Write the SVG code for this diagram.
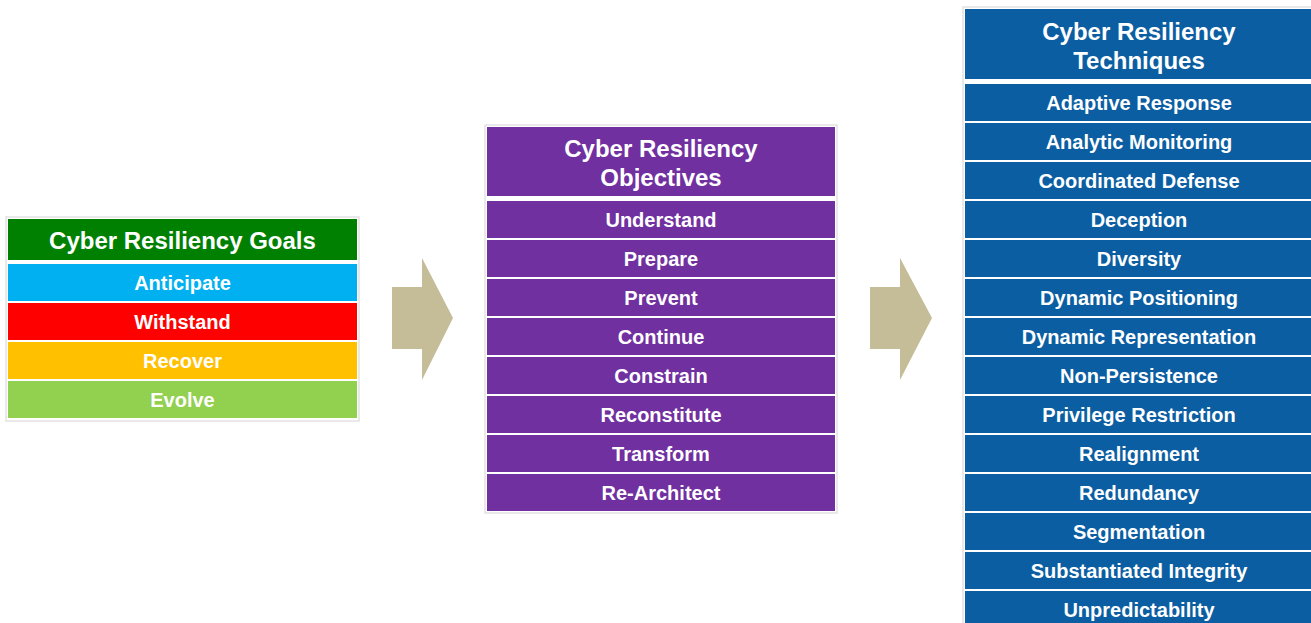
<svg xmlns="http://www.w3.org/2000/svg" width="1311" height="623" viewBox="0 0 1311 623">
<style>
text{font-family:"Liberation Sans",Arial,sans-serif;font-weight:bold;fill:#fff;text-anchor:middle}
.h{font-size:24px}
.r{font-size:20px}
.frame{fill:#fff;stroke:#e2e2e2;stroke-width:1.5}
.arrow{fill:#c4bd97}
.g0{fill:#008000}.g1{fill:#00b0f0}.g2{fill:#ff0000}.g3{fill:#ffc000}.g4{fill:#92d050}
.p{fill:#7030a0}
.b{fill:#0b5ea1}
</style>
<rect width="1311" height="623" fill="#fff"/>

<g id="goals">
<rect class="frame" x="6" y="217" width="353" height="204"/>
<rect class="g0" x="8" y="219" width="349" height="41"/>
<text class="h" x="182.5" y="249">Cyber Resiliency Goals</text>
<rect class="g1" x="8" y="264" width="349" height="37"/>
<text class="r" x="182.5" y="289.5">Anticipate</text>
<rect class="g2" x="8" y="303" width="349" height="37"/>
<text class="r" x="182.5" y="328.5">Withstand</text>
<rect class="g3" x="8" y="342" width="349" height="37"/>
<text class="r" x="182.5" y="367.5">Recover</text>
<rect class="g4" x="8" y="381" width="349" height="37"/>
<text class="r" x="182.5" y="406.5">Evolve</text>
</g>

<g id="objectives">
<rect class="frame" x="485" y="125" width="352" height="388"/>
<rect class="p" x="487" y="127" width="348" height="69"/>
<text class="h" x="661" y="157">Cyber Resiliency</text>
<text class="h" x="661" y="186">Objectives</text>
<rect class="p" x="487" y="201" width="348" height="37"/>
<text class="r" x="661" y="226.5">Understand</text>
<rect class="p" x="487" y="240" width="348" height="37"/>
<text class="r" x="661" y="265.5">Prepare</text>
<rect class="p" x="487" y="279" width="348" height="37"/>
<text class="r" x="661" y="304.5">Prevent</text>
<rect class="p" x="487" y="318" width="348" height="37"/>
<text class="r" x="661" y="343.5">Continue</text>
<rect class="p" x="487" y="357" width="348" height="37"/>
<text class="r" x="661" y="382.5">Constrain</text>
<rect class="p" x="487" y="396" width="348" height="37"/>
<text class="r" x="661" y="421.5">Reconstitute</text>
<rect class="p" x="487" y="435" width="348" height="37"/>
<text class="r" x="661" y="460.5">Transform</text>
<rect class="p" x="487" y="474" width="348" height="37"/>
<text class="r" x="661" y="499.5">Re-Architect</text>
</g>

<g id="techniques">
<rect class="frame" x="963" y="7" width="360" height="630"/>
<rect class="b" x="965" y="9" width="350" height="70"/>
<text class="h" x="1139" y="40">Cyber Resiliency</text>
<text class="h" x="1139" y="69">Techniques</text>
<rect class="b" x="965" y="84" width="350" height="37"/>
<text class="r" x="1139" y="109.5">Adaptive Response</text>
<rect class="b" x="965" y="123" width="350" height="37"/>
<text class="r" x="1139" y="148.5">Analytic Monitoring</text>
<rect class="b" x="965" y="162" width="350" height="37"/>
<text class="r" x="1139" y="187.5">Coordinated Defense</text>
<rect class="b" x="965" y="201" width="350" height="37"/>
<text class="r" x="1139" y="226.5">Deception</text>
<rect class="b" x="965" y="240" width="350" height="37"/>
<text class="r" x="1139" y="265.5">Diversity</text>
<rect class="b" x="965" y="279" width="350" height="37"/>
<text class="r" x="1139" y="304.5">Dynamic Positioning</text>
<rect class="b" x="965" y="318" width="350" height="37"/>
<text class="r" x="1139" y="343.5">Dynamic Representation</text>
<rect class="b" x="965" y="357" width="350" height="37"/>
<text class="r" x="1139" y="382.5">Non-Persistence</text>
<rect class="b" x="965" y="396" width="350" height="37"/>
<text class="r" x="1139" y="421.5">Privilege Restriction</text>
<rect class="b" x="965" y="435" width="350" height="37"/>
<text class="r" x="1139" y="460.5">Realignment</text>
<rect class="b" x="965" y="474" width="350" height="37"/>
<text class="r" x="1139" y="499.5">Redundancy</text>
<rect class="b" x="965" y="513" width="350" height="37"/>
<text class="r" x="1139" y="538.5">Segmentation</text>
<rect class="b" x="965" y="552" width="350" height="37"/>
<text class="r" x="1139" y="577.5">Substantiated Integrity</text>
<rect class="b" x="965" y="591" width="350" height="40"/>
<text class="r" x="1139" y="616.5">Unpredictability</text>
</g>

<g id="connectors">
<polygon class="arrow" points="392,287 422,287 422,258 453,318 422,380 422,349 392,349"/>
<polygon class="arrow" points="870,287 900,287 900,258 932,318 900,380 900,349 870,349"/>
</g>
</svg>
